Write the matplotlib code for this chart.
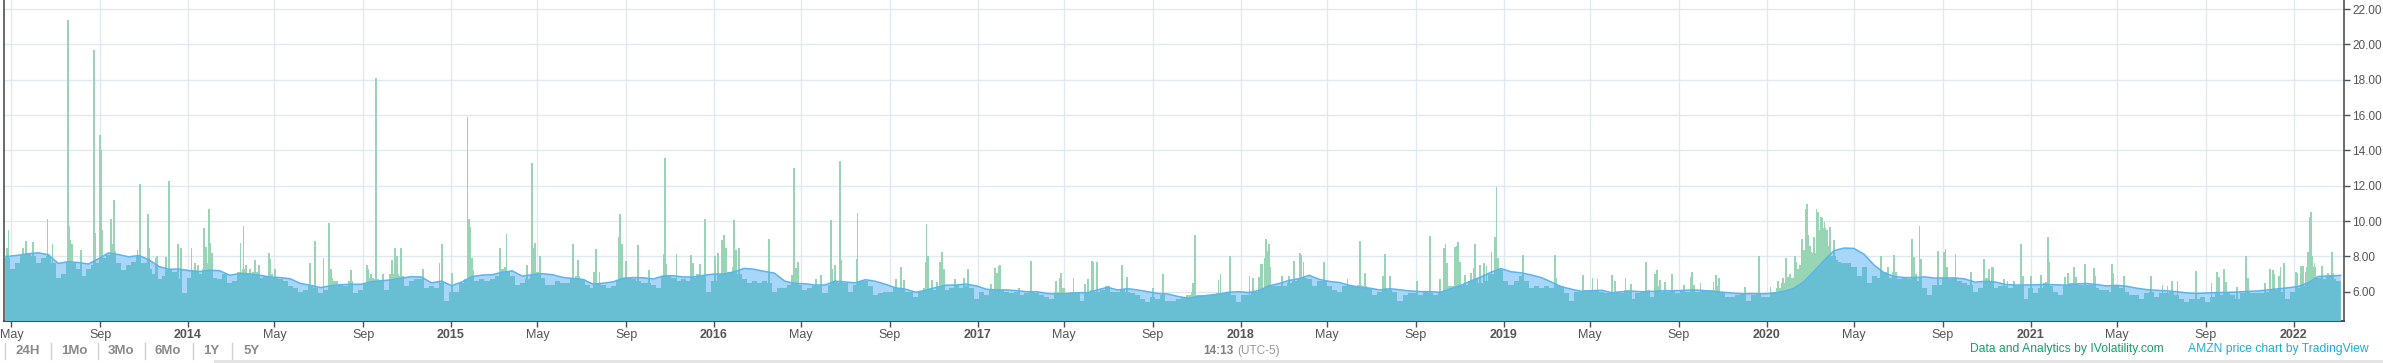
import numpy as np
import pandas as pd
import matplotlib
matplotlib.use("Agg")
import matplotlib.pyplot as plt
import matplotlib.dates as mdates
from matplotlib.patches import Polygon, Rectangle
from matplotlib.lines import Line2D

plt.rcParams['font.family'] = ['Liberation Sans', 'DejaVu Sans']

# ---------------- data ----------------
START = '2013-04-20'          # day 0 for spike offsets
WEEK_START = '2013-04-26'     # first weekly bar

# weekly typical bar level
bar_values = [
    7.9, 7.3, 7.6, 8.1, 8.2, 8.0, 7.6, 7.9, 8.0, 7.6, 6.8, 7.0, 7.6, 7.6, 7.3, 6.9, 7.3, 7.5, 7.6, 7.9,
    8.1, 8.3, 7.6, 7.2, 7.5, 7.7, 8.1, 7.6, 7.3, 7.0, 6.7, 6.9, 7.2, 7.1, 6.7, 5.9, 6.8, 7.2, 7.0, 7.3,
    7.6, 6.8, 6.7, 7.0, 6.5, 6.6, 7.1, 7.3, 7.0, 7.1, 6.8, 6.9, 7.0, 6.8, 6.7, 6.6, 6.3, 6.2, 6.0, 6.1,
    6.3, 6.2, 5.9, 6.1, 6.8, 6.6, 6.4, 6.3, 6.6, 5.9, 6.1, 6.5, 6.8, 6.7, 6.6, 6.1,
    7.0, 7.0, 6.9, 6.3, 6.6, 6.7, 6.7, 6.2, 6.3, 6.2, 6.5, 5.5, 6.0, 6.0, 6.5, 6.7, 7.2, 6.6, 6.7, 6.6,
    6.7, 6.9, 7.3, 7.1, 6.9, 6.4, 6.5, 6.7, 7.0, 7.1, 6.8, 6.4, 6.4, 6.6, 6.5, 6.5, 6.7, 6.9, 6.7, 6.4,
    6.2, 6.5, 6.4, 6.2, 6.3, 6.6, 6.8, 6.8, 6.7, 6.6, 6.5, 6.5, 6.4, 6.2, 6.9, 6.9, 6.8, 6.6, 6.7, 6.6,
    6.8, 7.0, 6.9, 6.0, 6.6, 7.0, 7.3, 7.1, 7.4, 7.0, 6.7, 6.5, 6.6, 6.5, 6.6, 6.5, 6.0, 6.2,
    6.2, 6.4, 6.5, 6.4, 6.1, 6.2, 6.3, 6.3, 5.9, 6.4, 6.6, 6.5, 6.5, 6.0, 6.4, 6.6, 6.6, 6.3, 5.8, 5.9,
    6.0, 6.0, 6.2, 6.2, 6.0, 6.0, 5.7, 6.0, 6.2, 6.2, 6.1, 6.2, 6.1, 6.2, 6.4, 6.2, 6.3, 6.2, 5.6, 6.0,
    5.8, 6.1, 6.3, 6.1, 6.0, 5.9, 6.0, 5.8, 5.9, 6.0, 5.9, 5.8, 5.7, 5.6, 6.0, 6.2, 5.9, 6.0, 5.9, 5.5,
    6.0, 6.1, 6.0, 6.1, 6.3, 6.0, 6.0, 6.1, 6.0, 5.9, 5.8, 5.6, 5.4, 5.7, 5.6, 5.8, 5.5,
    5.5, 5.6, 5.7, 5.8, 6.0, 5.8, 5.8, 5.8, 5.8, 5.9, 5.9, 5.9, 5.8, 5.4, 5.8, 5.8, 6.0, 6.0, 6.2, 6.4,
    6.3, 6.3, 6.3, 6.5, 6.6, 6.7, 6.8, 6.7, 6.3, 6.6, 6.6, 6.3, 6.1, 6.0, 6.3, 6.3, 6.3, 6.4, 6.3, 6.2,
    5.8, 6.0, 6.2, 6.1, 6.0, 5.5, 5.8, 5.9, 5.9, 5.8, 6.0, 5.9, 5.8, 6.0, 6.2, 6.3, 6.3, 6.3, 6.4, 6.6,
    6.7, 6.5, 6.6, 7.0, 7.0, 7.2, 6.6, 6.4, 6.6, 6.9, 6.6, 6.2, 6.3, 6.2, 6.3, 6.2, 6.3,
    6.3, 5.9, 5.5, 6.0, 6.0, 6.1, 6.1, 6.1, 6.0, 5.9, 5.9, 6.0, 5.9, 6.1, 5.6, 5.9, 6.0, 6.1, 5.7, 6.3,
    6.0, 6.0, 6.1, 5.9, 6.1, 6.0, 6.4, 6.0, 6.1, 6.1, 6.1, 6.3, 5.9, 5.7, 5.7, 5.8, 5.9, 5.5, 5.8, 5.9,
    5.7, 5.7, 6.0, 6.2, 6.5, 6.5, 6.8, 7.3, 8.0, 8.6, 8.2, 9.5, 9.6, 8.6, 8.0, 7.7, 7.6, 7.6, 7.4, 6.9,
    7.4, 6.5, 6.9, 6.8, 7.1, 6.8, 7.1, 6.7, 6.8, 6.7, 7.0, 6.6, 6.2, 5.8, 6.4, 6.4, 6.7,
    6.7, 6.8, 6.6, 6.5, 6.4, 6.0, 6.2, 6.8, 6.6, 6.2, 6.3, 6.3, 6.2, 6.3, 6.4, 5.6, 6.2, 5.9, 6.2, 6.5,
    6.3, 6.0, 5.8, 6.4, 6.5, 6.4, 6.4, 6.4, 6.4, 6.2, 6.1, 6.1, 6.0, 6.3, 6.2, 6.0, 5.8, 5.8, 5.6, 5.9,
    6.0, 5.7, 5.9, 5.9, 6.0, 5.8, 5.6, 5.4, 5.6, 5.6, 5.7, 5.4, 5.7, 5.9, 5.8, 5.9, 5.8, 5.6, 5.9, 6.0,
    5.9, 5.9, 5.9, 6.0, 6.1, 6.1, 6.0, 5.6, 6.0, 6.2, 6.3, 7.1, 7.4, 6.8, 6.7, 6.9, 6.7, 6.6,
]

# moving average, sampled every second week
ma_values = [
    8.0, 8.06, 8.15, 8.2, 8.1, 7.6, 7.7, 7.65, 7.57, 7.87, 8.2, 8.1, 7.97, 8.05, 7.8, 7.42, 7.27, 7.28, 7.19, 7.14,
    7.22, 7.19, 6.93, 7.03, 7.01, 6.93, 6.83, 6.8, 6.73, 6.47, 6.36, 6.23, 6.34, 6.40, 6.42, 6.42, 6.56, 6.62,
    6.67, 6.77, 6.85, 6.83, 6.5, 6.6, 6.34, 6.55, 6.85, 6.94, 6.96, 7.1, 7.18, 6.88, 6.97, 7.02, 6.96, 6.81, 6.75, 6.7,
    6.43, 6.48, 6.56, 6.76, 6.8, 6.79, 6.72, 6.9, 6.9, 6.83, 6.84, 6.93, 7.0, 7.0, 7.13, 7.32, 7.27, 7.15, 7.05,
    6.6, 6.47, 6.45, 6.38, 6.38, 6.6, 6.55, 6.5, 6.68, 6.59, 6.42, 6.22, 6.14, 5.97, 6.08, 6.24, 6.37, 6.38, 6.43, 6.33,
    6.14, 6.1, 6.1, 6.06, 6.0, 6.0, 5.9, 5.87, 5.9, 5.94, 5.94, 6.1, 6.25, 6.1, 6.17, 6.1, 6.0, 5.9, 5.87,
    5.73, 5.63, 5.73, 5.8, 5.86, 5.97, 6.0, 5.95, 6.07, 6.33, 6.46, 6.64, 6.74, 6.93, 6.7, 6.58, 6.52, 6.36, 6.25, 6.2,
    6.1, 6.17, 6.11, 6.04, 6.01, 6.0, 5.97, 6.16, 6.35, 6.6, 6.83, 7.1, 7.31, 7.13, 7.07, 6.95, 6.8, 6.55,
    6.28, 6.14, 6.02, 6.06, 6.08, 5.94, 6.0, 6.03, 6.0, 6.02, 6.05, 6.05, 6.07, 6.1, 6.07, 6.02, 5.97, 5.92, 5.88, 5.89,
    5.88, 5.91, 6.02, 6.18, 6.55, 7.13, 7.75, 8.32, 8.47, 8.45, 8.12, 7.5, 7.07, 6.86, 6.8, 6.8, 6.84, 6.77, 6.78,
    6.78, 6.72, 6.54, 6.59, 6.55, 6.41, 6.38, 6.38, 6.39, 6.42, 6.39, 6.37, 6.44, 6.47, 6.41, 6.33, 6.36, 6.31, 6.2, 6.12,
    6.08, 6.05, 6.0, 5.93, 5.9, 5.93, 5.95, 5.96, 5.98, 6.02, 6.04, 6.1, 6.16, 6.22, 6.29, 6.5, 6.86, 6.89, 6.92,
]

# single-day spikes: day offset from START and value
spike_days = [
    5, 7, 27, 31, 41, 61, 68, 90, 91, 93, 95, 108, 126, 127, 134, 135, 137, 149, 151, 153,
    186, 189, 200, 202, 211, 213, 226, 230, 242, 246, 261, 266, 270, 278, 281, 285, 287, 289, 329, 333,
    336, 342, 349, 355, 368, 370, 377, 425, 432, 444, 451, 452, 455, 482, 504, 506, 510, 517, 527, 539,
    543, 546,
    552, 582, 605, 609, 622, 644, 646, 648, 650, 689, 696, 698, 726, 733, 735, 738, 744, 790, 797, 820,
    822, 827, 854, 856, 858, 864, 880, 896, 916, 918, 920, 934, 954, 957, 967, 973, 987, 992, 997, 1000,
    1003, 1014, 1017, 1021, 1062,
    1094, 1097, 1100, 1103, 1128, 1134, 1148, 1150, 1154, 1161, 1163, 1184, 1185, 1239, 1245, 1250, 1280, 1281, 1283, 1288,
    1296, 1300, 1302, 1305, 1320, 1333, 1338, 1370, 1376, 1379, 1381, 1383, 1409, 1426, 1461, 1466, 1468, 1485, 1501, 1505,
    1510, 1512, 1517, 1552, 1559, 1595, 1609,
    1651, 1653, 1686, 1689, 1702, 1729, 1734, 1742, 1745, 1747, 1750, 1752, 1754, 1756, 1758, 1774, 1784, 1791, 1799, 1801,
    1804, 1832, 1865, 1882, 1889, 1914, 1917, 1924, 1962, 1980, 1993, 1999, 2001, 2003, 2014, 2017, 2019, 2021, 2028, 2036,
    2040, 2042, 2049, 2054, 2058, 2065, 2070, 2072, 2074, 2109, 2153, 2155,
    2192, 2205, 2212, 2232, 2236, 2251, 2259, 2279, 2292, 2295, 2299, 2306, 2315, 2332, 2342, 2343, 2355, 2373, 2377, 2381,
    2417, 2436, 2452, 2462, 2469, 2474, 2476, 2479, 2486, 2488, 2493, 2496, 2499, 2501, 2503, 2505, 2509, 2512, 2514, 2516,
    2518, 2522, 2524, 2527, 2530, 2532, 2535, 2540, 2544, 2606, 2615, 2623, 2649, 2651, 2659, 2661, 2685, 2693, 2695, 2697,
    2709,
    2730, 2748, 2755, 2760, 2761, 2776, 2781, 2790, 2800, 2803, 2814, 2828, 2834, 2837, 2839, 2861, 2865, 2873, 2876, 2889,
    2901, 2903, 2926, 2928, 2943, 2980, 2996, 3003, 3009, 3017, 3043, 3064, 3072, 3074, 3081, 3084, 3099, 3112, 3115, 3138,
    3145, 3149, 3151, 3158, 3160, 3165, 3181, 3183, 3188, 3191, 3196, 3198, 3200, 3202, 3204, 3207, 3218, 3226, 3231, 3233,
    3239,
]
spike_values = [
    8.45, 9.5, 8.5, 8.87, 8.8, 10.1, 8.68, 21.4, 9.7, 8.9, 8.7, 8.36, 19.7, 9.3, 14.87, 14.0, 9.5, 10.1, 8.7, 11.2,
    8.36, 12.1, 10.4, 8.45, 7.9, 8.0, 7.95, 12.26, 8.7, 8.5, 8.45, 7.6, 7.5, 9.6, 8.55, 10.7, 8.74, 8.2, 8.74, 9.7,
    7.5, 7.3, 7.8, 7.5, 8.2, 7.83, 7.3, 7.6, 8.87, 7.9, 8.68, 9.9, 7.3, 7.2, 7.5, 7.26, 7.0, 18.07, 7.0, 7.8,
    8.45, 8.0,
    8.5, 7.26, 7.6, 8.68, 7.04, 15.87, 10.1, 9.64, 7.9, 8.45, 7.38, 9.25, 7.5, 13.26, 8.45, 8.74, 8.0, 8.68, 7.8, 7.13,
    8.42, 7.13, 9.1, 10.4, 8.68, 7.74, 8.64, 7.2, 8.13, 13.55, 7.57, 8.13, 8.07, 7.6, 7.55, 10.1, 8.0, 8.17, 8.9, 9.2,
    8.45, 10.06, 8.36, 8.5, 9.0,
    6.94, 12.98, 7.32, 7.66, 6.7, 6.94, 10.06, 7.28, 7.5, 13.4, 7.8, 7.85, 10.43, 6.7, 7.41, 6.66, 7.7, 9.83, 8.0, 6.66,
    6.57, 7.7, 8.23, 7.26, 6.7, 6.8, 7.28, 6.43, 7.36, 7.04, 7.47, 7.5, 6.19, 7.74, 6.6, 6.8, 7.04, 6.75, 6.43, 6.7,
    7.74, 7.66, 7.66, 7.5, 6.85, 6.19, 7.0,
    6.47, 9.2, 6.66, 7.0, 8.0, 6.89, 6.8, 6.85, 7.57, 7.55, 7.9, 8.98, 8.3, 8.68, 7.41, 6.89, 6.89, 7.74, 8.2, 8.07,
    7.7, 7.66, 6.7, 8.87, 7.04, 6.89, 8.13, 6.89, 6.6, 9.15, 6.7, 8.5, 8.68, 7.6, 8.55, 8.58, 8.83, 7.7, 6.94, 7.04,
    7.32, 8.68, 7.5, 7.6, 7.45, 8.23, 9.1, 11.9, 7.9, 8.1, 8.07, 6.8,
    6.94, 6.75, 6.7, 6.94, 6.62, 6.8, 6.43, 7.66, 7.0, 7.23, 6.66, 6.53, 7.0, 6.38, 6.85, 7.1, 6.47, 6.57, 6.94, 6.75,
    6.28, 8.0, 6.28, 6.6, 6.75, 7.9, 6.85, 7.0, 8.0, 7.66, 7.5, 9.0, 8.36, 10.7, 10.96, 9.2, 8.26, 9.1, 7.8, 10.7,
    10.5, 10.25, 10.15, 9.96, 9.5, 8.45, 9.64, 8.92, 7.8, 8.0, 7.41, 8.07, 9.0, 7.98, 9.7, 7.85, 8.32, 8.26, 8.42, 7.41,
    8.13,
    7.1, 7.85, 7.28, 7.4, 7.4, 6.72, 6.62, 6.6, 8.7, 6.89, 6.89, 6.94, 6.57, 9.08, 7.66, 6.85, 7.04, 7.41, 6.81, 7.57,
    7.36, 6.89, 7.57, 7.04, 6.89, 6.89, 6.38, 6.34, 6.6, 6.6, 7.17, 6.47, 7.13, 6.85, 7.26, 6.57, 6.25, 8.0, 6.75, 6.47,
    7.28, 7.2, 7.0, 6.9, 7.41, 7.6, 7.1, 7.04, 7.45, 7.47, 7.41, 8.23, 10.2, 10.5, 8.0, 7.6, 7.45, 7.04, 8.23, 7.04,
    6.6,
]

y_ticks = [6, 8, 10, 12, 14, 16, 18, 20, 22]
range_buttons = ['24H', '1Mo', '3Mo', '6Mo', '1Y', '5Y']

# ---------------- styling ----------------
GREEN = '#98d5b4'
LIGHTBLUE = '#a8d5fa'
TEAL = '#68bfd3'
MALINE = '#5cb4ee'
GRID = '#e0e9f0'
AXIS = '#505050'

W, H = 2383, 363
fig = plt.figure(figsize=(W / 100, H / 100), dpi=100)
fig.patch.set_facecolor('white')
ax = fig.add_axes([3.5 / W, 1 - 320.5 / H, (2344 - 3.5) / W, 320.5 / H])

week_dates = pd.date_range(WEEK_START, periods=len(bar_values), freq='7D')
ma_dates = week_dates[::2]
spike_dates = pd.Timestamp(START) + pd.to_timedelta(spike_days, unit='D')

wx = mdates.date2num(week_dates)
sx = mdates.date2num(spike_dates)
mx = mdates.date2num(ma_dates)

all_x = np.concatenate([wx, sx])
all_v = np.concatenate([np.asarray(bar_values, float), np.asarray(spike_values, float)])
all_w = np.concatenate([np.full(len(wx), 7.0), np.full(len(sx), 2.5)])

ax.bar(all_x, all_v, width=all_w, color=GREEN, linewidth=0, zorder=2)

verts = [(mx[0] - 3.5, 0)] + [(mx[0] - 3.5, ma_values[0])] + list(zip(mx, ma_values)) + [(mx[-1] + 3.5, ma_values[-1]), (mx[-1] + 3.5, 0)]
poly = Polygon(verts, closed=True, facecolor=LIGHTBLUE, edgecolor='none', zorder=3)
ax.add_patch(poly)

teal = ax.bar(all_x, all_v, width=all_w, color=TEAL, linewidth=0, zorder=4)
for p in teal:
    p.set_clip_path(poly)

ax.plot(np.r_[mx[0] - 3.5, mx, mx[-1] + 3.5], np.r_[ma_values[0], ma_values, ma_values[-1]],
        color=MALINE, lw=1.1, zorder=5, solid_joinstyle='round')

d0 = mdates.date2num(pd.Timestamp(START))
ax.set_xlim(d0, d0 + 3248)
ax.set_ylim(4.37, 22.51)

# x ticks
tick_dates = pd.date_range('2013-05-01', '2022-01-01', freq='4MS')
labels = [str(d.year) if d.month == 1 else d.strftime('%b') for d in tick_dates]
ax.set_xticks(mdates.date2num(tick_dates))
ax.set_xticklabels(labels)
for lab, d in zip(ax.get_xticklabels(), tick_dates):
    if d.month == 1:
        lab.set_fontweight('bold')
        lab.set_color('#444444')
ax.tick_params(axis='x', direction='out', length=4, width=1, color=AXIS,
               labelsize=9, labelcolor='#555555', pad=2)

# y ticks on right
ax.yaxis.tick_right()
ax.set_yticks(y_ticks)
ax.set_yticklabels([f'{v:.2f}' for v in y_ticks])
ax.tick_params(axis='y', direction='out', length=4, width=1, color=AXIS,
               labelsize=8.5, labelcolor='#555555', pad=2)

ax.grid(True, color=GRID, linewidth=1.0, zorder=0)
ax.set_axisbelow(True)
for s in ['left', 'right', 'bottom']:
    ax.spines[s].set_color(AXIS)
    ax.spines[s].set_linewidth(1.2)
ax.spines['bottom'].set_linewidth(1.5)
ax.spines['top'].set_visible(False)

# ---------------- footer ----------------
def fx(px):
    return px / W

def fy(py):
    return 1 - py / H

btn_x = [27.6, 73.9, 121, 167.6, 211.6, 251.4]
sep_x = [5, 50.5, 97.6, 144.7, 192.5, 231.5]
for name, x in zip(range_buttons, btn_x):
    fig.text(fx(x), fy(351), name, ha='center', va='center', fontsize=9.5,
             fontweight='bold', color='#8a8a8a')
for x in sep_x:
    fig.add_artist(Line2D([fx(x), fx(x)], [fy(343), fy(359)], color='#d0d0d0', lw=1.0))

fig.text(fx(1234), fy(351), '14:13', ha='right', va='center', fontsize=8.5,
         fontweight='bold', color='#808080')
fig.text(fx(1237), fy(351), '(UTC-5)', ha='left', va='center', fontsize=8.5, color='#9a9a9a')

fig.text(fx(1970), fy(349), 'Data and Analytics by IVolatility.com', ha='left', va='center',
         fontsize=8.7, color='#12a06c')
fig.text(fx(2188), fy(349), 'AMZN price chart by TradingView', ha='left', va='center',
         fontsize=8.7, color='#19aee0')

fig.add_artist(Rectangle((fx(214), 0), 1 - fx(214), 3.5 / H, transform=fig.transFigure,
                         facecolor='#e4e4e4', edgecolor='none'))

fig.savefig('out.png', dpi=100)
